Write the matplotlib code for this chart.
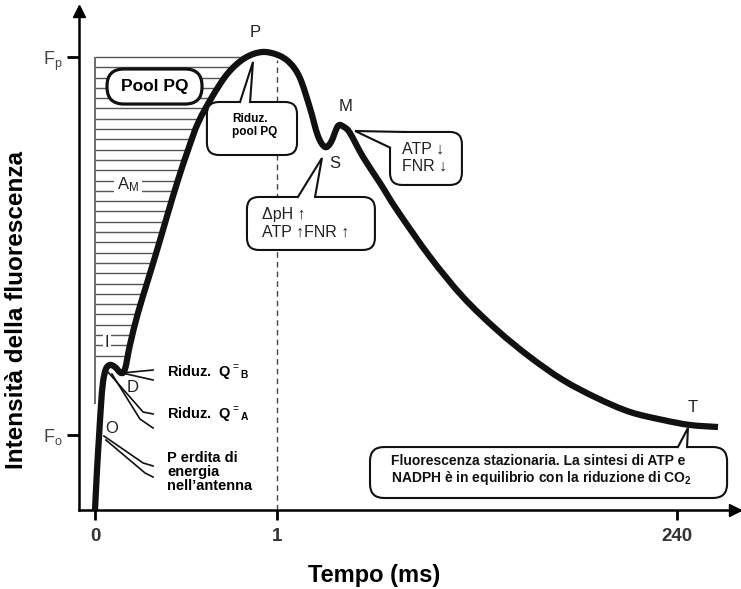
import numpy as np
import matplotlib
matplotlib.use('Agg')
import matplotlib.pyplot as plt
from matplotlib.patches import FancyBboxPatch, Polygon, PathPatch
from matplotlib.path import Path

plt.rcParams['font.family'] = ['Liberation Sans', 'DejaVu Sans']
plt.rcParams['mathtext.fontset'] = 'custom'
plt.rcParams['mathtext.rm'] = 'Liberation Sans'
plt.rcParams['mathtext.bf'] = 'Liberation Sans:bold'
plt.rcParams['mathtext.it'] = 'Liberation Sans:italic'

# Kautsky curve: x = position on the broken time axis, y = fluorescence (Fo = 1)
curve_x = [0.000, 0.011, 0.022, 0.033, 0.044, 0.060, 0.082, 0.110, 0.143, 0.165,
           0.192, 0.236, 0.291, 0.346, 0.401, 0.456, 0.511, 0.566, 0.643, 0.731,
           0.824, 0.918, 1.005, 1.071, 1.126, 1.181, 1.225, 1.264, 1.297, 1.335,
           1.368, 1.401, 1.473, 1.566, 1.659, 1.841, 2.022, 2.209, 2.390, 2.571,
           2.758, 2.940, 3.121, 3.269, 3.423]
curve_y = [0.000, 0.530, 0.967, 1.391, 1.695, 1.868, 1.921, 1.894, 1.815, 1.868,
           2.185, 2.609, 3.046, 3.483, 3.934, 4.371, 4.768, 5.126, 5.470, 5.788,
           5.987, 6.066, 6.026, 5.921, 5.722, 5.325, 4.954, 4.808, 4.874, 5.086,
           5.073, 4.993, 4.675, 4.331, 3.974, 3.351, 2.821, 2.384, 2.026, 1.722,
           1.483, 1.298, 1.192, 1.126, 1.099]

time_ticks = [0, 1, 3.2]
time_labels = ['0', '1', '240']
F_o = 1.0
F_p = 6.0
level_labels = [r'F$_\mathregular{o}$', r'F$_\mathregular{p}$']

phase_names = ['O', 'I', 'D', 'P', 'S', 'M', 'T']
phase_x = [0.093, 0.066, 0.209, 0.879, 1.319, 1.374, 3.286]
phase_y = [1.086, 2.212, 1.629, 6.318, 4.596, 5.338, 1.351]

SX, SY = 182.0, 75.5   # pixels per data unit

fig = plt.figure(figsize=(7.41, 5.89), dpi=100)
ax = fig.add_axes([79 / 741, 79 / 589, 662 / 741, 502 / 589])
ax.set_xlim(-16 / SX, 646 / SX)
ax.set_ylim(0, 502 / SY)

for s in ['top', 'right']:
    ax.spines[s].set_visible(False)
for s in ['left', 'bottom']:
    ax.spines[s].set_linewidth(1.8)
ax.plot(0, 0.994, marker='^', ms=9, color='k', transform=ax.transAxes, clip_on=False)
ax.plot(0.991, 0, marker='>', ms=9, color='k', transform=ax.transAxes, clip_on=False)

ax.set_xticks(time_ticks)
ax.set_xticklabels(time_labels, fontweight='bold')
ax.tick_params(axis='x', length=7, width=2, pad=6, labelsize=13.5, labelcolor='#333')
ax.set_yticks([F_o, F_p])
ax.set_yticklabels(level_labels)
ax.tick_params(axis='y', length=9, width=2, pad=3, labelsize=13, labelcolor='#444')

ax.set_ylabel('Intensità della fluorescenza', fontsize=17.5, fontweight='bold', va='center')
ax.yaxis.set_label_coords(-0.094, 0.398)
ax.set_xlabel('Tempo (ms)', fontsize=17, fontweight='bold', va='center')
ax.xaxis.set_label_coords(0.4456, -0.1295)

# hatched area A_M (between Fp and the rising curve)
rise_x = curve_x[8:22]
rise_y = curve_y[8:22]
levels = F_p - 0.1364 * np.arange(30)
ends = np.interp(levels, rise_y, rise_x)
ax.hlines(levels, 0, ends, colors='#555', lw=1.0, zorder=1)
ax.vlines(0, 1.4, F_p, colors='#555', lw=1.2, zorder=1)

ax.vlines(1, 0, 5.96, colors='#444', linestyles=(0, (4, 3)), lw=1, zorder=1)

# smooth drawing of the read points (Catmull-Rom as Bezier segments)
pts = np.column_stack([curve_x, curve_y])
verts, codes = [pts[0]], [Path.MOVETO]
for i in range(len(pts) - 1):
    p0 = pts[i - 1] if i > 0 else pts[i]
    p3 = pts[i + 2] if i + 2 < len(pts) else pts[i + 1]
    verts += [pts[i] + (pts[i + 1] - p0) / 6, pts[i + 1] - (p3 - pts[i]) / 6, pts[i + 1]]
    codes += [Path.CURVE4] * 3
ax.add_patch(PathPatch(Path(verts, codes), fc='none', ec='#111', lw=4.5,
                       capstyle='butt', joinstyle='round', zorder=3, clip_on=False))


def callout(x0, y0, x1, y1, r, lw=1.5, tip=None, b1=None, b2=None, inner=None):
    box = FancyBboxPatch((x0, y0), x1 - x0, y1 - y0,
                         boxstyle=f'round,pad=0,rounding_size={r}',
                         mutation_aspect=SX / SY, fc='white', ec='#111', lw=lw, zorder=4)
    ax.add_patch(box)
    if tip is not None:
        poly = [b1, tip, b2] + inner
        ax.add_patch(Polygon(poly, closed=True, fc='white', ec='none', zorder=5))
        ax.plot([b1[0], tip[0], b2[0]], [b1[1], tip[1], b2[1]], color='#111', lw=lw,
                solid_joinstyle='miter', zorder=6)


# Pool PQ
callout(0.066, 5.377, 0.588, 5.841, 0.093, lw=2.3)
ax.text(0.327, 5.609, 'Pool PQ', fontsize=12.5, fontweight='bold', ha='center', va='center', zorder=7)

# Riduz. pool PQ
callout(0.615, 4.702, 1.110, 5.404, 0.066, tip=(0.868, 5.934), b1=(0.797, 5.404), b2=(0.852, 5.404),
        inner=[(0.852, 5.36), (0.797, 5.36)])
ax.text(0.753, 5.093, 'Riduz.\npool PQ', fontsize=8.5, fontweight='bold', ha='left', va='center',
        linespacing=1.2, zorder=7)

# ATP / FNR decrease
callout(1.621, 4.305, 2.016, 5.007, 0.066, tip=(1.429, 5.020), b1=(1.70, 5.007), b2=(1.621, 4.80),
        inner=[(1.641, 4.80), (1.70, 4.967)])
ax.text(1.687, 4.669, 'ATP ↓\nFNR ↓', fontsize=11.5, color='#222', ha='left', va='center',
        linespacing=1.2, zorder=7)

# dpH / ATP / FNR increase
callout(0.835, 3.444, 1.538, 4.146, 0.066, tip=(1.247, 4.662), b1=(1.115, 4.146), b2=(1.209, 4.146),
        inner=[(1.209, 4.10), (1.115, 4.10)])
ax.text(0.918, 3.795, 'ΔpH ↑\nATP ↑FNR ↑', fontsize=11.5, color='#222', ha='left', va='center',
        linespacing=1.2, zorder=7)

# steady state
callout(1.511, 0.159, 3.473, 0.834, 0.077, tip=(3.258, 1.086), b1=(3.203, 0.834), b2=(3.253, 0.834),
        inner=[(3.253, 0.79), (3.203, 0.79)])
ax.text(1.626, 0.523, 'Fluorescenza stazionaria. La sintesi di ATP e\n'
        'NADPH è in equilibrio con la riduzione di CO$_\\mathbf{2}$',
        fontsize=10, fontweight='bold', color='#111', ha='left', va='center', linespacing=1.1, zorder=7)

# phase letters
for name, px, py in zip(phase_names, phase_x, phase_y):
    bb = dict(fc='white', ec='none', pad=1) if name == 'I' else None
    ax.text(px, py, name, fontsize=12, color='#222', ha='center', va='center', bbox=bb, zorder=7)
ax.text(0.181, 4.305, r'A$_\mathregular{M}$', fontsize=12, color='#222', ha='center', va='center',
        bbox=dict(fc='white', ec='none', pad=2), zorder=2)

# left side annotations (double leader lines)
leaders = [
    ([0.148, 0.319], [1.815, 1.854]),
    ([0.148, 0.319], [1.815, 1.722]),
    ([0.071, 0.264, 0.319], [1.828, 1.298, 1.272]),
    ([0.093, 0.247, 0.319], [1.801, 1.205, 1.086]),
    ([0.049, 0.264, 0.319], [0.980, 0.623, 0.583]),
    ([0.060, 0.275, 0.319], [0.927, 0.490, 0.437]),
]
for lx, ly in leaders:
    ax.plot(lx, ly, color='#111', lw=1.2, zorder=2)

ax.text(0.396, 1.815, r'Riduz.  Q$^{=}$$_\mathbf{B}$', fontsize=10.5, fontweight='bold',
        ha='left', va='center', zorder=7)
ax.text(0.396, 1.258, r'Riduz.  Q$^{=}$$_\mathbf{A}$', fontsize=10.5, fontweight='bold',
        ha='left', va='center', zorder=7)
ax.text(0.396, 0.503, 'P erdita di\nenergia\nnell’antenna', fontsize=10.5, fontweight='bold',
        ha='left', va='center', linespacing=1.0, zorder=7)

plt.savefig('out.png', dpi=100)
